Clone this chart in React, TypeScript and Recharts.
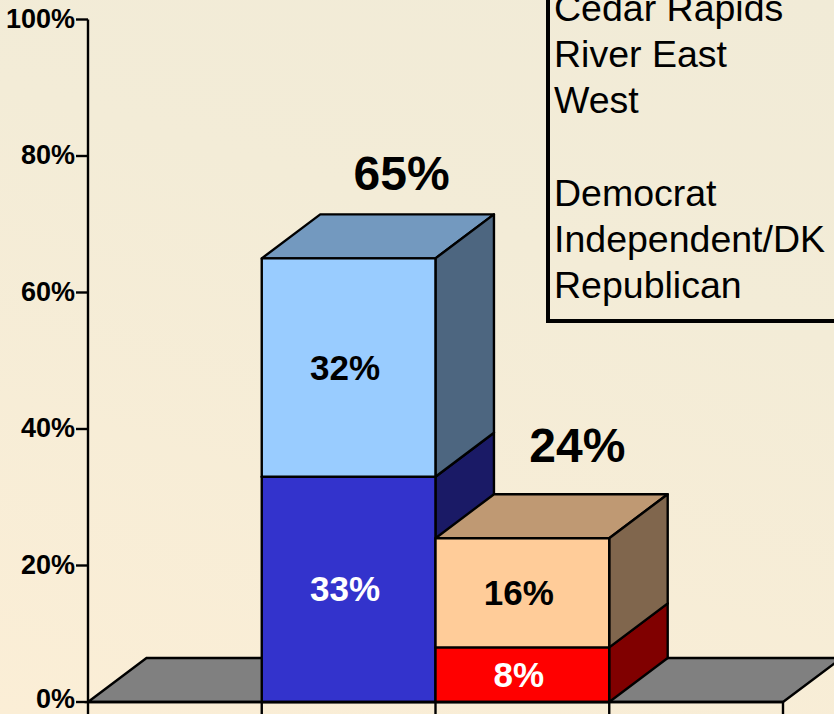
import React from 'react';
import { ComposedChart, Bar, Line, XAxis, YAxis, LabelList, ReferenceArea } from 'recharts';

const categorySlots = [0.5, 1.5, 2.5, 3.5];
const lowerValues = [null, 33, 8, null];
const upperValues = [null, 32, 16, null];
const totalValues = [null, 65, 24, null];
const yTicks = [0, 20, 40, 60, 80, 100];
const xTicks = [0, 1, 2, 3, 4];
const legendLines = ['Cedar Rapids', 'River East', 'West', '', 'Democrat', 'Independent/DK', 'Republican'];

const lowerColors = [
  null,
  { front: '#3333CC', side: '#1A1A66', top: '#262699' },
  { front: '#FF0000', side: '#800000', top: '#BF0000' },
  null,
];
const upperColors = [
  null,
  { front: '#99CCFF', side: '#4D6680', top: '#7399BF' },
  { front: '#FFCC99', side: '#80664D', top: '#BF9973' },
  null,
];
const lowerLabelColors = ['#000', '#fff', '#fff', '#000'];
const upperLabelColors = ['#000', '#000', '#000', '#000'];

const data = categorySlots.map((slot, i) => ({
  slot,
  lower: lowerValues[i],
  upper: upperValues[i],
  total: totalValues[i],
}));

const DEPTH_X = 58.5;
const DEPTH_Y = 44;
const STROKE = 2.4;
const FONT = '"Liberation Sans", Arial, sans-serif';

function makeBox(colors: any[]) {
  return function Box(props: any) {
    const { x, y, width, height, index } = props;
    const c = colors[index];
    if (!c || !height) return null;
    const dx = DEPTH_X;
    const dy = DEPTH_Y;
    return (
      <g stroke="#000" strokeWidth={STROKE} strokeLinejoin="round">
        <path d={`M${x},${y}L${x + dx},${y - dy}H${x + width + dx}L${x + width},${y}Z`} fill={c.top} />
        <path d={`M${x + width},${y}L${x + width + dx},${y - dy}V${y + height - dy}L${x + width},${y + height}Z`} fill={c.side} />
        <rect x={x} y={y} width={width} height={height} fill={c.front} />
      </g>
    );
  };
}

function Floor(props: any) {
  const { x, y, width } = props;
  return (
    <path
      d={`M${x},${y}L${x + DEPTH_X},${y - DEPTH_Y}H${x + width + DEPTH_X}L${x + width},${y}Z`}
      fill="#808080"
      stroke="#000"
      strokeWidth={STROKE}
    />
  );
}

function segmentLabel(labelColors: string[]) {
  return function SegmentLabel(props: any) {
    const { x, y, width, height, value, index } = props;
    if (value == null) return null;
    return (
      <text
        x={x + width / 2 - 3.5}
        y={y + height / 2 + 12}
        textAnchor="middle"
        fontFamily={FONT}
        fontWeight="bold"
        fontSize={35}
        fill={labelColors[index]}
      >
        {value}%
      </text>
    );
  };
}

// the big totals sit up and to the right of their column
const totalShiftX = [0, 53, 55, 0];
const totalShiftY = [0, 85, 93, 0];

function TotalLabel(props: any) {
  const { x, y, value, index } = props;
  if (value == null) return null;
  return (
    <text
      x={x + totalShiftX[index]}
      y={y - totalShiftY[index] + 17}
      textAnchor="middle"
      fontFamily={FONT}
      fontWeight="bold"
      fontSize={48}
      fill="#000"
    >
      {value}%
    </text>
  );
}

function YTick(props: any) {
  const { x, y, payload } = props;
  return (
    <text
      x={x + 1}
      y={y + (payload.value === 0 ? 6 : 8)}
      textAnchor="end"
      fontFamily={FONT}
      fontWeight="bold"
      fontSize={27}
      fill="#000"
    >
      {payload.value}%
    </text>
  );
}

export default function App() {
  return (
    <div
      style={{
        position: 'absolute',
        left: 0,
        top: 0,
        width: 834,
        height: 714,
        overflow: 'hidden',
        background: 'linear-gradient(197deg, #F1EBD7 0%, #F3ECD7 35%, #FBEED6 100%)',
      }}
    >
      <ComposedChart
        width={834}
        height={714}
        data={data}
        margin={{ top: 19.5, right: 51, bottom: 0, left: 0 }}
        barGap={0}
        barCategoryGap={0}
      >
        <XAxis
          dataKey="slot"
          type="number"
          domain={[0, 4]}
          ticks={xTicks}
          tickFormatter={() => ''}
          height={12}
          tickSize={14}
          axisLine={{ stroke: '#000', strokeWidth: STROKE }}
          tickLine={{ stroke: '#000', strokeWidth: STROKE }}
        />
        <YAxis
          type="number"
          domain={[0, 100]}
          ticks={yTicks}
          width={88}
          tickSize={12}
          tick={<YTick />}
          interval={0}
          axisLine={{ stroke: '#000', strokeWidth: STROKE }}
          tickLine={{ stroke: '#000', strokeWidth: STROKE }}
        />
        <ReferenceArea x1={0} x2={4} y1={0} y2={0} ifOverflow="visible" shape={<Floor />} />
        <Bar dataKey="lower" stackId="a" barSize={173.7} isAnimationActive={false} shape={makeBox(lowerColors)}>
          <LabelList dataKey="lower" content={segmentLabel(lowerLabelColors)} />
        </Bar>
        <Bar dataKey="upper" stackId="a" barSize={173.7} isAnimationActive={false} shape={makeBox(upperColors)}>
          <LabelList dataKey="upper" content={segmentLabel(upperLabelColors)} />
        </Bar>
        <Line dataKey="total" stroke="none" dot={false} activeDot={false} isAnimationActive={false} connectNulls={false}>
          <LabelList dataKey="total" content={TotalLabel} />
        </Line>
      </ComposedChart>
      <div
        style={{
          position: 'absolute',
          left: 546,
          top: -15,
          width: 320,
          paddingLeft: 4,
          paddingBottom: 11,
          borderLeft: '4px solid #000',
          borderBottom: '4px solid #000',
          fontFamily: FONT,
          fontSize: 37.5,
          lineHeight: '46.2px',
          color: '#000',
        }}
      >
        {legendLines.map((line, i) => (
          <div key={i} style={{ height: 46.2 }}>{line}</div>
        ))}
      </div>
    </div>
  );
}
